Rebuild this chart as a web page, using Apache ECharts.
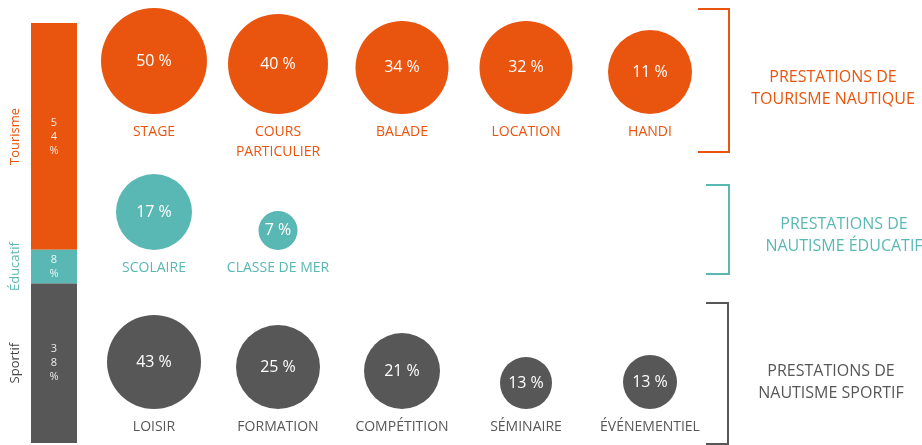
<!DOCTYPE html>
<html>
<head>
<meta charset="utf-8">
<script src="https://cdn.jsdelivr.net/npm/echarts@6/dist/echarts.min.js"></script>
<style>
  html, body { margin: 0; padding: 0; background: #fff; }
  #chart { width: 922px; height: 445px; }
</style>
</head>
<body>
<div id="chart"></div>
<script>
// repartition globale (barre de gauche)
const groupNames = ['Tourisme', 'Éducatif', 'Sportif']
const groupShares = [54, 8, 38]

// prestations par groupe
const tourismeCats = ['STAGE', 'COURS\nPARTICULIER', 'BALADE', 'LOCATION', 'HANDI']
const tourismeValues = [50, 40, 34, 32, 11]
const educatifCats = ['SCOLAIRE', 'CLASSE DE MER']
const educatifValues = [17, 7]
const sportifCats = ['LOISIR', 'FORMATION', 'COMPÉTITION', 'SÉMINAIRE', 'ÉVÉNEMENTIEL']
const sportifValues = [43, 25, 21, 13, 13]

const groupTitles = [
  'PRESTATIONS DE\nTOURISME NAUTIQUE',
  'PRESTATIONS DE\nNAUTISME ÉDUCATIF',
  'PRESTATIONS DE\nNAUTISME SPORTIF'
]

// style : diametre des bulles tel que dessine
const tourismeSizes = [106, 100, 93, 93, 84]
const educatifSizes = [76, 39]
const sportifSizes = [94, 84, 76, 52, 54]

const colors = ['#e9550f', '#5ab8b4', '#575757']
const sideColors = ['#e9550f', '#5ab8b4', '#444444']
const font = '"Open Sans", sans-serif'

const rows = [
  { cats: tourismeCats, values: tourismeValues, sizes: tourismeSizes, bottom: 331 },
  { cats: educatifCats, values: educatifValues, sizes: educatifSizes, bottom: 195 },
  { cats: sportifCats, values: sportifValues, sizes: sportifSizes, bottom: 36 }
]

const chart = echarts.init(document.getElementById('chart'))

const grid = [
  { left: 31, width: 46, top: 23, bottom: 2 },
  { left: 2, width: 26, top: 23, bottom: 2 }
]
const xAxis = [
  { gridIndex: 0, type: 'category', data: [''], show: false },
  { gridIndex: 1, type: 'category', data: [''], show: false }
]
const yAxis = [
  { gridIndex: 0, type: 'value', min: 0, max: 100, inverse: true, show: false },
  { gridIndex: 1, type: 'value', min: 0, max: 100, inverse: true, show: false }
]
const series = []

groupNames.forEach((name, i) => {
  series.push({
    type: 'bar',
    name,
    stack: 'total',
    xAxisIndex: 0,
    yAxisIndex: 0,
    barWidth: '100%',
    itemStyle: { color: colors[i] },
    label: {
      show: true,
      position: 'inside',
      color: 'rgba(255,255,255,0.88)',
      fontFamily: font,
      fontSize: 11,
      lineHeight: 14,
      formatter: (p) => (p.value + '%').split('').join('\n')
    },
    data: [groupShares[i]]
  })
  // noms des groupes, ecrits a la verticale a gauche de la barre
  series.push({
    type: 'bar',
    name: name + '-nom',
    stack: 'noms',
    xAxisIndex: 1,
    yAxisIndex: 1,
    barWidth: '100%',
    itemStyle: { color: 'transparent' },
    silent: true,
    label: {
      show: true,
      position: 'inside',
      rotate: 90,
      color: sideColors[i],
      fontFamily: font,
      fontSize: 13,
      formatter: name
    },
    data: [groupShares[i]]
  })
})

rows.forEach((row, r) => {
  const gi = r + 2
  grid.push({ left: 92, width: 620, top: 0, bottom: row.bottom })
  const axisCats = row.cats.slice()
  while (axisCats.length < 5) axisCats.push('')
  xAxis.push({
    gridIndex: gi,
    type: 'category',
    data: axisCats,
    axisLine: { show: false },
    axisTick: { show: false },
    axisLabel: {
      interval: 0,
      margin: 8,
      color: colors[r],
      fontFamily: font,
      fontSize: 14,
      lineHeight: 20,
      verticalAlign: 'top'
    }
  })
  yAxis.push({ gridIndex: gi, type: 'value', min: 0, max: 1, show: false })
  series.push({
    type: 'scatter',
    xAxisIndex: gi,
    yAxisIndex: gi,
    symbol: 'circle',
    itemStyle: { color: colors[r], opacity: 1 },
    label: {
      show: true,
      position: 'inside',
      color: '#fff',
      fontFamily: font,
      fontSize: 16,
      formatter: (p) => p.value[2] + ' %'
    },
    data: row.values.map((v, i) => ({
      value: [i, 0, v],
      symbolSize: row.sizes[i],
      symbolOffset: [0, -row.sizes[i] / 2]
    }))
  })
})

const brackets = [
  { pts: [[698, 9], [729, 9], [729, 152], [698, 152]], color: colors[0] },
  { pts: [[706, 185], [729, 185], [729, 274], [706, 274]], color: colors[1] },
  { pts: [[706, 303], [728, 303], [728, 444], [706, 444]], color: colors[2] }
]

chart.setOption({
  animation: false,
  backgroundColor: '#fff',
  title: [
    { text: groupTitles[0], left: 828, top: 61, textAlign: 'center' },
    { text: groupTitles[1], left: 839, top: 208, textAlign: 'center' },
    { text: groupTitles[2], left: 826, top: 355, textAlign: 'center' }
  ].map((t, i) => ({
    ...t,
    textStyle: {
      color: colors[i],
      fontFamily: font,
      fontSize: 16,
      fontWeight: 'normal',
      lineHeight: 22
    }
  })),
  grid,
  xAxis,
  yAxis,
  series,
  graphic: brackets.map((b) => ({
    type: 'polyline',
    shape: { points: b.pts },
    style: { stroke: b.color, lineWidth: 2, fill: null }
  }))
})
</script>
</body>
</html>
